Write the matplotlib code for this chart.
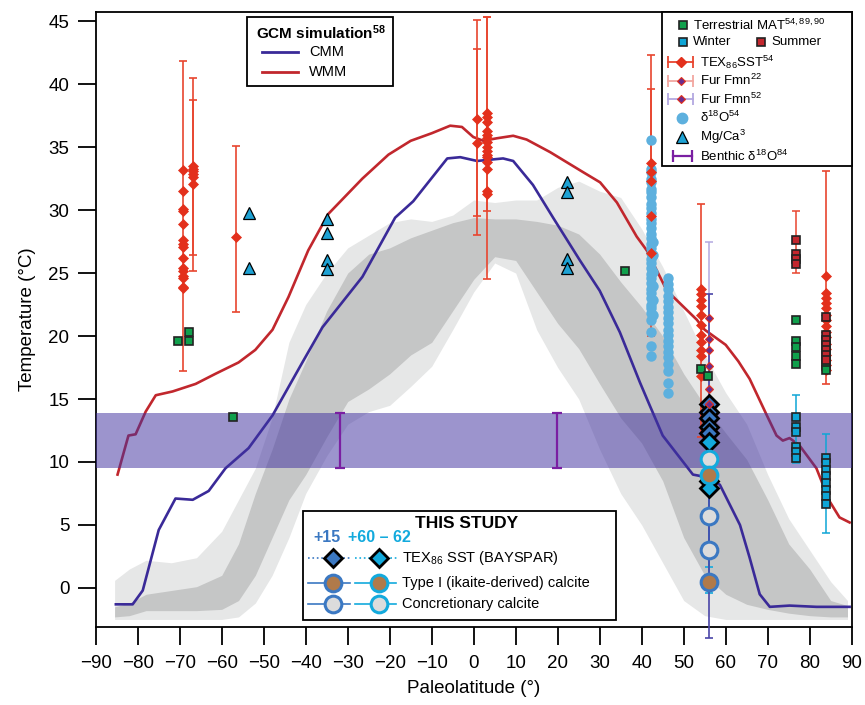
import numpy as np
import matplotlib
matplotlib.use('Agg')
import matplotlib.pyplot as plt
from matplotlib.patches import Rectangle

plt.rcParams['font.family'] = ['Liberation Sans', 'DejaVu Sans']
plt.rcParams['mathtext.fontset'] = 'custom'
plt.rcParams['mathtext.rm'] = 'Liberation Sans'
plt.rcParams['mathtext.it'] = 'Liberation Sans:italic'
plt.rcParams['mathtext.bf'] = 'Liberation Sans:bold'

# Model envelopes (light = outer, dark = inner)
band_lat = [-85.5, -82, -78, -72, -66, -60, -56, -52, -48, -44, -40, -35, -30, -25, -20, -15, -10, -5, 0,
            5, 10, 15, 20, 25, 30, 35, 40, 45, 50, 55, 60, 65, 70, 75, 80, 85, 89]
outer_hi = [0.6, 1.5, 2.2, 2.0, 2.4, 4.5, 7.0, 9.5, 13.5, 19.5, 22.5, 25.0, 27.0, 28.0, 29.0, 29.3, 29.1, 29.6, 30.8,
            30.6, 30.8, 30.8, 31.8, 32.3, 31.5, 31.0, 28.5, 25.5, 22.0, 18.5, 15.5, 13.0, 9.0, 5.5, 3.0, 0.5, -1.0]
inner_hi = [-1.5, -1.2, -0.5, -0.2, 0.1, 1.0, 3.5, 7.5, 11.0, 15.0, 18.0, 22.0, 25.0, 26.5, 27.0, 27.8, 28.4, 29.0, 29.4,
            29.3, 29.3, 29.1, 28.8, 28.1, 26.5, 24.3, 22.3, 20.0, 17.0, 14.5, 12.3, 10.2, 7.0, 3.5, 1.5, -1.0, -1.4]
inner_lo = [-2.3, -2.2, -1.8, -1.8, -1.8, -1.7, -1.0, 1.0, 4.0, 7.0, 9.0, 12.0, 14.8, 15.8, 17.0, 18.5, 19.5, 22.0, 24.5,
            26.3, 26.0, 23.5, 21.0, 19.0, 16.2, 13.5, 11.5, 8.5, 4.0, 1.0, -0.5, -1.3, -1.7, -2.0, -2.2, -2.3, -2.3]
outer_lo = [-2.5, -2.5, -2.5, -2.5, -2.5, -2.5, -2.3, -1.2, 1.0, 4.0, 7.5, 10.5, 13.0, 14.0, 14.5, 16.0, 17.6, 20.5, 23.5,
            25.8, 25.0, 20.5, 17.5, 15.0, 11.0, 7.5, 5.0, 2.0, -1.0, -2.2, -2.5, -2.5, -2.5, -2.5, -2.5, -2.5, -2.5]

# GCM simulation
wmm_lat = [-84.8, -82.2, -80.5, -78.1, -75.7, -71.7, -66.2, -61.5, -56.0, -52.0, -47.9, -44.1, -39.4, -34.6, -26.5,
           -20.3, -15.0, -10.0, -5.6, -2.8, -0.1, 2.3, 5.5, 9.4, 12.6, 18.2, 26.1, 30.1, 34.1, 38.8, 41.2, 46.0,
           49.1, 53.1, 55.0, 60.0, 63.0, 65.7, 69.8, 72.1, 73.6, 75.2, 77.6, 81.6, 84.7, 87.1, 89.5]
wmm_t = [9.0, 12.1, 12.2, 14.0, 15.3, 15.6, 16.2, 17.0, 17.9, 18.9, 20.5, 23.1, 26.8, 29.7, 32.5,
         34.4, 35.5, 36.1, 36.7, 36.6, 35.8, 35.5, 35.7, 35.9, 35.6, 34.6, 33.0, 32.2, 30.6, 27.9, 26.8, 23.6,
         22.6, 21.3, 20.5, 19.3, 18.0, 16.6, 13.7, 12.1, 11.7, 11.9, 11.3, 9.5, 6.9, 5.6, 5.2]
cmm_lat = [-85.2, -81.2, -78.8, -75.0, -71.0, -66.9, -63.1, -59.1, -53.6, -47.9, -40.8, -36.0, -26.5, -18.7,
           -14.4, -6.3, -3.2, 0.8, 7.0, 9.4, 14.1, 18.9, 25.3, 30.0, 34.8, 39.6, 41.9, 45.0, 52.2, 53.8, 58.6,
           63.4, 65.7, 68.1, 70.5, 75.2, 81.6, 89.5]
cmm_t = [-1.3, -1.3, -0.2, 4.6, 7.1, 7.0, 7.7, 9.5, 11.1, 13.7, 17.9, 20.7, 24.7, 29.4,
         30.7, 34.1, 34.2, 33.9, 34.1, 33.9, 32.0, 29.4, 26.0, 23.6, 20.3, 16.3, 14.5, 12.1, 9.0, 8.9, 8.2,
         5.0, 2.4, -0.5, -1.5, -1.4, -1.5, -1.5]

# Benthic d18O deep-water range
benthic_lo, benthic_hi = 9.5, 13.9
benthic_lat = [-31.85, 19.9]

# TEX86 SST sites
tex_site_lat = [-69.2, -66.8, -56.6, 0.9, 3.1, 42.1, 54.1, 84.0]
tex_site_sst = [
    [33.2, 31.5, 30.1, 29.9, 28.9, 27.6, 27.3, 27.1, 26.2, 25.4, 25.2, 24.8, 24.6, 23.9, 23.8],
    [33.5, 33.3, 33.1, 32.9, 32.6, 32.1],
    [27.9],
    [37.2, 35.3],
    [37.7, 37.4, 37.0, 36.3, 36.0, 35.7, 35.4, 35.0, 34.7, 34.4, 34.2, 33.8, 33.3, 31.5, 31.3],
    [33.7, 33.0, 32.3, 29.5, 26.6],
    [23.7, 23.3, 22.9, 22.4, 21.7, 20.9, 20.1, 19.5, 18.9, 18.4, 16.8],
    [24.8, 23.4, 23.0, 22.6, 22.2, 21.7, 21.3, 20.8, 20.3, 19.9, 19.4, 19.0, 18.5, 18.1, 17.7, 17.3],
]
tex_err_lat = [-69.2, -66.8, -66.8, -56.6, 0.9, 0.9, 3.1, 3.1, 42.1, 42.1, 54.1, 84.0]
tex_err_lo = [17.2, 25.2, 26.4, 21.9, 28.0, 29.5, 24.5, 29.9, 20.0, 22.0, 12.0, 16.2]
tex_err_hi = [41.8, 38.7, 40.5, 35.1, 42.8, 45.1, 45.3, 45.3, 42.3, 39.6, 30.5, 33.1]

# Fur Fmn
fur_lat = [56.0, 56.0, 56.0, 56.0, 56.0, 56.0]
fur_t = [21.4, 19.8, 18.9, 17.6, 15.8, 14.6]
fur_err = (56.0, 13.0, 27.5)

# d18O (planktic)
d18o_site_lat = [42.1, 42.7, 46.3]
d18o_site_t = [
    [35.6, 33.3, 33.0, 32.5, 32.2, 31.7, 31.4, 31.0, 30.5, 30.2, 29.8, 29.3, 29.0, 28.6, 28.1, 27.8, 27.3,
     27.0, 26.6, 26.1, 25.8, 25.4, 24.9, 24.6, 24.2, 23.7, 23.4, 23.0, 22.5, 22.2, 21.8, 21.3, 20.3, 19.2, 18.4],
    [27.5, 26.4, 25.1, 24.0, 22.9, 21.7],
    [24.6, 24.1, 23.7, 23.2, 22.8, 22.3, 21.9, 21.4, 21.0, 20.5, 20.1, 19.6, 19.2, 18.7, 18.3, 17.8, 17.2,
     16.3, 15.5],
]

# Mg/Ca
mgca_lat = [-53.5, -53.5, -35.0, -35.0, -35.0, -35.0, 22.1, 22.1, 22.1, 22.1]
mgca_t = [29.8, 25.4, 29.3, 28.2, 26.0, 25.3, 32.2, 31.4, 26.1, 25.4]

# Terrestrial MAT, winter and summer
mat_lat = [-70.3, -67.8, -67.8, -57.4, 36.0, 54.2, 55.9, 76.8, 76.8, 76.8, 76.8, 76.8, 84.0, 84.0]
mat_t = [19.6, 20.3, 19.6, 13.6, 25.2, 17.4, 16.8, 21.3, 19.6, 19.1, 18.4, 17.8, 17.7, 17.3]
winter_lat = [76.8, 76.8, 76.8, 76.8, 76.8, 76.8, 84.0, 84.0, 84.0, 84.0, 84.0, 84.0, 84.0, 84.0]
winter_t = [13.6, 12.8, 12.4, 11.2, 10.8, 10.3, 10.3, 9.9, 9.4, 8.9, 8.3, 7.8, 7.3, 6.7]
winter_err_lat = [76.8, 84.0]
winter_err_lo = [9.9, 4.4]
winter_err_hi = [15.35, 12.2]
summer_lat = [76.8, 76.8, 76.8, 76.8, 84.0, 84.0, 84.0, 84.0, 84.0, 84.0, 84.0]
summer_t = [27.6, 26.5, 26.1, 25.7, 21.5, 20.1, 19.7, 19.3, 18.9, 18.5, 18.1]
summer_err = (76.8, 25.0, 29.9)

# This study (site at ~56 N)
study_lat = 56.0
bay15_t = [14.6, 14.0, 13.5, 12.8, 12.3]
bay60_t = [11.6, 8.5, 7.9]
ikaite15_t = [0.5]
ikaite60_t = [9.0]
concr15_t = [5.7, 3.0]
concr60_t = [10.2]
study_err15 = (-4.0, 23.3)
study_err60 = [(1.65, 12.0), (-0.4, 11.0)]

# colours
c_light = '#e6e7e7'
c_dark = '#c5c6c6'
c_cmm = '#3a2a98'
c_wmm = '#c1272d'
c_band = '#4132a0'
c_tex = '#e3301c'
c_d18o = '#5db0de'
c_mgca = '#1ea2d4'
c_mat = '#10a04c'
c_win = '#0ea5d6'
c_sum = '#c3272e'
c_fur = '#6a2c8e'
c_fur22 = '#f2a7a0'
c_fur52 = '#b3a8e0'
c_benthic = '#7a1fa2'
c_b15 = '#3b78c2'
c_b60 = '#13aadd'
c_brown = '#b07a4a'
c_grey = '#dcdcdc'

fig = plt.figure(figsize=(8.65, 7.05), dpi=100)
ax = fig.add_axes([95.7 / 865, 78 / 705, 756 / 865, 615.3 / 705])

ax.fill_between(band_lat, outer_lo, outer_hi, color=c_light, lw=0, zorder=1)
ax.fill_between(band_lat, inner_lo, inner_hi, color=c_dark, lw=0, zorder=1.1)
ax.plot(cmm_lat, cmm_t, color=c_cmm, lw=1.9, zorder=2)
ax.plot(wmm_lat, wmm_t, color=c_wmm, lw=1.9, zorder=2)
ax.axhspan(benthic_lo, benthic_hi, color=c_band, alpha=0.52, lw=0, zorder=3)

bmid = (benthic_lo + benthic_hi) / 2
ax.errorbar(benthic_lat, [bmid] * len(benthic_lat), yerr=(benthic_hi - benthic_lo) / 2, fmt='none',
            ecolor=c_benthic, elinewidth=1.6, capsize=3.8, capthick=1.6, zorder=4)

# error bars
lo = np.array(tex_err_lo)
hi = np.array(tex_err_hi)
mid = (lo + hi) / 2
ax.errorbar(tex_err_lat, mid, yerr=[mid - lo, hi - mid], fmt='none', ecolor='#e8452f',
            elinewidth=1.2, capsize=2.8, capthick=1.2, zorder=4)
fm = (fur_err[1] + fur_err[2]) / 2
ax.errorbar([fur_err[0]], [fm], yerr=[[fm - fur_err[1]], [fur_err[2] - fm]], fmt='none', ecolor=c_fur52,
            elinewidth=1.1, capsize=2.8, capthick=1.1, zorder=4)
wlo = np.array(winter_err_lo)
whi = np.array(winter_err_hi)
wm = (wlo + whi) / 2
ax.errorbar(winter_err_lat, wm, yerr=[wm - wlo, whi - wm], fmt='none', ecolor=c_win,
            elinewidth=1.1, capsize=2.8, capthick=1.1, zorder=4)
sm = (summer_err[1] + summer_err[2]) / 2
ax.errorbar([summer_err[0]], [sm], yerr=[[sm - summer_err[1]], [summer_err[2] - sm]], fmt='none',
            ecolor='#e8452f', elinewidth=1.1, capsize=2.8, capthick=1.1, zorder=4)
for (l, h) in study_err60:
    m = (l + h) / 2
    ax.errorbar([study_lat], [m], yerr=[[m - l], [h - m]], fmt='none', ecolor=c_b60,
                elinewidth=1.2, capsize=2.8, capthick=1.2, zorder=4)
m15 = (study_err15[0] + study_err15[1]) / 2
eb = ax.errorbar([study_lat], [m15], yerr=[[m15 - study_err15[0]], [study_err15[1] - m15]], fmt='none',
                 ecolor='#4a45a8', elinewidth=1.2, capsize=2.8, capthick=1.2, zorder=4)
for art in eb.lines[1] + eb.lines[2]:
    art.set_clip_on(False)

# proxy markers
for lat, vals in zip(d18o_site_lat, d18o_site_t):
    ax.plot(np.full(len(vals), lat), vals, 'o', ms=7.5, color=c_d18o, mec='none', zorder=5)
for lat, vals in zip(tex_site_lat, tex_site_sst):
    ax.plot(np.full(len(vals), lat), vals, 'D', ms=5, mfc=c_tex, mec=c_tex, mew=0.5, zorder=6)
ax.plot(mgca_lat, mgca_t, '^', ms=8, mfc=c_mgca, mec='black', mew=0.9, zorder=6)
ax.plot(mat_lat, mat_t, 's', ms=6, mfc=c_mat, mec='#222222', mew=1.2, zorder=6)
ax.plot(winter_lat, winter_t, 's', ms=6, mfc=c_win, mec='#222222', mew=1.2, zorder=6)
ax.plot(summer_lat, summer_t, 's', ms=6, mfc=c_sum, mec='#222222', mew=1.2, zorder=6)

# this study
ax.plot(np.full(len(bay15_t), study_lat), bay15_t, 'D', ms=9.5, mfc=c_b15, mec='black', mew=2.0, zorder=7)
ax.plot(np.full(len(bay60_t), study_lat), bay60_t, 'D', ms=9.5, mfc=c_b60, mec='black', mew=2.0, zorder=7)
ax.plot(fur_lat, fur_t, 'D', ms=4.5, mfc=c_fur, mec=c_tex, mew=0.8, zorder=7.5)
ax.plot(np.full(len(concr60_t), study_lat), concr60_t, 'o', ms=12, mfc=c_grey, mec=c_b60, mew=2.2, zorder=8)
ax.plot(np.full(len(ikaite60_t), study_lat), ikaite60_t, 'o', ms=12, mfc=c_brown, mec=c_b60, mew=2.2, zorder=8)
ax.plot(np.full(len(concr15_t), study_lat), concr15_t, 'o', ms=12, mfc=c_grey, mec=c_b15, mew=2.2, zorder=8)
ax.plot(np.full(len(ikaite15_t), study_lat), ikaite15_t, 'o', ms=12, mfc=c_brown, mec=c_b15, mew=2.2, zorder=8)

ax.set_xlim(-90, 90)
ax.set_ylim(-3.1, 45.75)
ax.set_xticks(np.arange(-90, 91, 10))
ax.set_yticks(np.arange(0, 46, 5))
ax.tick_params(direction='out', length=13, width=1.3, labelsize=13.5)
ax.tick_params(axis='x', pad=7)
ax.tick_params(axis='y', pad=6)
for s in ax.spines.values():
    s.set_linewidth(1.3)
ax.set_xlabel('Paleolatitude (°)', fontsize=13.5, labelpad=6)
ax.set_ylabel('Temperature (°C)', fontsize=13.5, labelpad=9)

# legends drawn on a pixel overlay
lg = fig.add_axes([0, 0, 1, 1], zorder=10)
lg.set_xlim(0, 865)
lg.set_ylim(705, 0)
lg.axis('off')
lg.patch.set_alpha(0)

lg.add_patch(Rectangle((247, 17), 146, 69, fc='white', ec='black', lw=1.3))
lg.text(256, 33, 'GCM simulation$^{\\mathbf{58}}$', fontsize=11, fontweight='bold', va='center')
lg.plot([262, 298], [52, 52], color=c_cmm, lw=2)
lg.text(309, 52, 'CMM', fontsize=10.5, va='center')
lg.plot([262, 298], [72, 72], color=c_wmm, lw=2)
lg.text(309, 72, 'WMM', fontsize=10.5, va='center')

lg.add_patch(Rectangle((662, 12), 190, 154, fc='white', ec='black', lw=1.3))
fs = 9.5
lg.plot([683], [25], 's', ms=6, mfc=c_mat, mec='#222222', mew=1.2)
lg.text(693, 25, 'Terrestrial MAT$^{54,89,90}$', fontsize=fs, va='center')
lg.plot([683], [42], 's', ms=6, mfc=c_win, mec='#222222', mew=1.2)
lg.text(693, 42, 'Winter', fontsize=fs, va='center')
lg.plot([761], [42], 's', ms=6, mfc=c_sum, mec='#222222', mew=1.2)
lg.text(771, 42, 'Summer', fontsize=fs, va='center')
for y, ec, lab in [(62, '#e8452f', 'TEX$_{86}$SST$^{54}$'), (80.5, c_fur22, 'Fur Fmn$^{22}$'),
                   (99, c_fur52, 'Fur Fmn$^{52}$')]:
    lg.plot([668, 693], [y, y], color=ec, lw=1.3, marker='|', ms=8, mew=1.3)
    if ec == '#e8452f':
        lg.plot([680.5], [y], 'D', ms=5, mfc=c_tex, mec=c_tex)
    else:
        lg.plot([680.5], [y], 'D', ms=4.5, mfc=c_fur, mec=c_tex, mew=0.8)
    lg.text(700, y, lab, fontsize=fs, va='center')
lg.plot([682], [117.5], 'o', ms=7.5, color=c_d18o)
lg.text(700, 117.5, 'δ$^{18}$O$^{54}$', fontsize=fs, va='center')
lg.plot([682], [137], '^', ms=9, mfc=c_mgca, mec='black', mew=0.9)
lg.text(700, 137, 'Mg/Ca$^{3}$', fontsize=fs, va='center')
lg.plot([673, 692], [156, 156], color=c_benthic, lw=1.6, marker='|', ms=9, mew=1.6)
lg.text(700, 156, 'Benthic δ$^{18}$O$^{84}$', fontsize=fs, va='center')

lg.add_patch(Rectangle((303, 511), 313, 109, fc='white', ec='black', lw=1.3))
lg.text(415, 523, 'THIS STUDY', fontsize=12.5, fontweight='bold', va='center')
lg.text(313, 537, '+15', fontsize=11.5, fontweight='bold', color=c_b15, va='center')
lg.text(348, 537, '+60 – 62', fontsize=11.5, fontweight='bold', color=c_b60, va='center')
lg.plot([308, 352], [558, 558], ':', color=c_b15, lw=1.2)
lg.plot([355, 398], [558, 558], ':', color=c_b60, lw=1.2)
lg.plot([333], [558], 'D', ms=9.5, mfc=c_b15, mec='black', mew=2.0)
lg.plot([379], [558], 'D', ms=9.5, mfc=c_b60, mec='black', mew=2.0)
lg.text(402, 558, 'TEX$_{86}$ SST (BAYSPAR)', fontsize=10.5, va='center')
for y, fc, lab in [(583, c_brown, 'Type I (ikaite-derived) calcite'), (604, c_grey, 'Concretionary calcite')]:
    lg.plot([308, 350], [y, y], color=c_b15, lw=1.2)
    lg.plot([355, 396], [y, y], color=c_b60, lw=1.2)
    lg.plot([333], [y], 'o', ms=12, mfc=fc, mec=c_b15, mew=2.2)
    lg.plot([379], [y], 'o', ms=12, mfc=fc, mec=c_b60, mew=2.2)
    lg.text(402, y, lab, fontsize=10.5, va='center')

fig.savefig('out.png', dpi=100)
